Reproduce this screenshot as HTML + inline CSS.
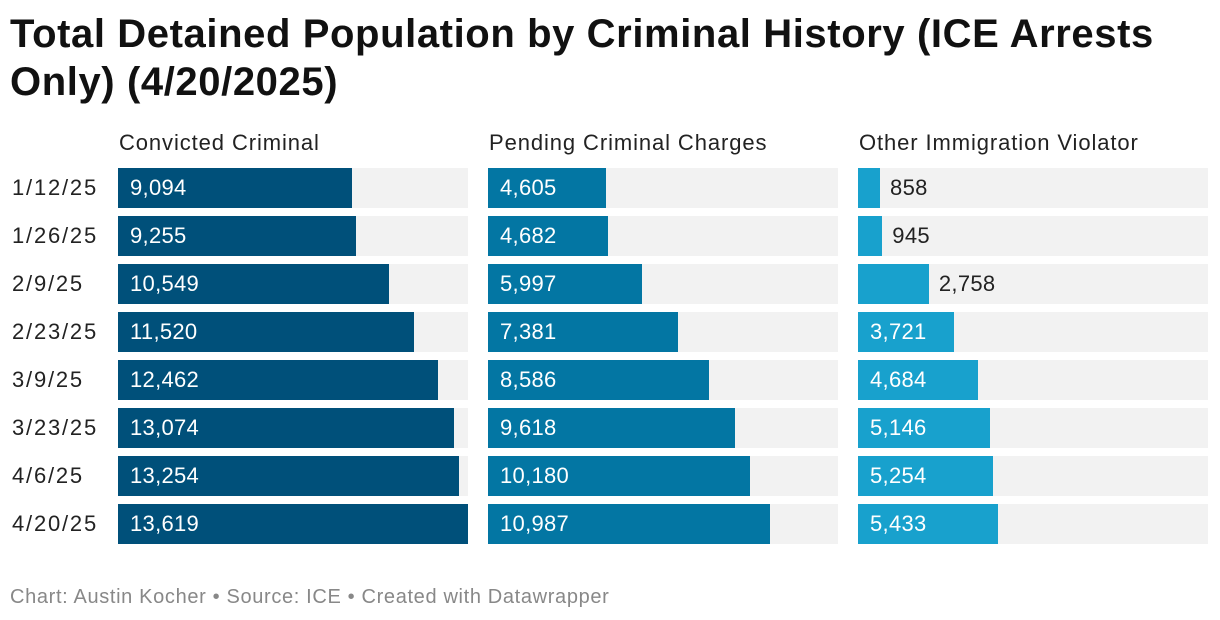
<!DOCTYPE html>
<html><head><meta charset="utf-8">
<style>
body{margin:0;background:#fff;font-family:"Liberation Sans",Roboto,sans-serif;}
#wrap{position:relative;width:1220px;height:620px;overflow:hidden;}
h1{position:absolute;left:10px;top:10px;margin:0;font-size:40px;line-height:48px;font-weight:bold;color:#111;width:1210px;letter-spacing:0.6px}
.hdr{position:absolute;top:130px;font-size:22px;color:#222;letter-spacing:0.9px;}
.lbl{position:absolute;left:12px;font-size:22px;color:#222;line-height:40px;letter-spacing:1.8px;}
.bg{position:absolute;height:40px;background:#f2f2f2;}
.bar{position:absolute;height:40px;}
.val{position:absolute;font-size:22px;line-height:40px;letter-spacing:0.3px;}
#foot{position:absolute;left:10px;top:586px;font-size:20px;color:#888;letter-spacing:0.65px;}
</style></head><body>
<div id="wrap">
<h1>Total Detained Population by Criminal History (ICE Arrests Only) (4/20/2025)</h1>
<div id="foot">Chart: Austin Kocher • Source: ICE • Created with Datawrapper</div>
</div>
<script>
const dates=["1/12/25","1/26/25","2/9/25","2/23/25","3/9/25","3/23/25","4/6/25","4/20/25"];
const seriesNames=["Convicted Criminal","Pending Criminal Charges","Other Immigration Violator"];
const convicted=[9094,9255,10549,11520,12462,13074,13254,13619];
const pending=[4605,4682,5997,7381,8586,9618,10180,10987];
const other=[858,945,2758,3721,4684,5146,5254,5433];
const series=[convicted,pending,other];
const colors=["#00507a","#0376a3","#18a1cd"];
const wrap=document.getElementById('wrap');
const panelX=[118,488,858],panelW=350,top0=168,pitch=48,maxV=13619;
const xs=v=>v/maxV*panelW;
function mk(cls,name){const d=document.createElement('div');d.className=cls;


wrap.appendChild(d);return d;}
seriesNames.forEach((n,i)=>{const h=mk('hdr','panel-header');h.style.left=(panelX[i]+1)+'px';h.textContent=n;});
dates.forEach((d,r)=>{const l=mk('lbl','row-label');l.style.top=(top0+r*pitch)+'px';l.textContent=d;});
series.forEach((vals,i)=>{vals.forEach((v,r)=>{
 const y=top0+r*pitch;
 const bg=mk('bg','bar-background');bg.style.left=panelX[i]+'px';bg.style.top=y+'px';bg.style.width=panelW+'px';
 const w=xs(v);
 const b=mk('bar','bar');b.style.left=panelX[i]+'px';b.style.top=y+'px';b.style.width=w+'px';b.style.background=colors[i];
 const t=mk('val','value-label');t.style.top=y+'px';t.textContent=v.toLocaleString('en-US');
 if(w>85){t.style.left=(panelX[i]+12)+'px';t.style.color='#fff';}
 else{t.style.left=(panelX[i]+w+10)+'px';t.style.color='#222';}
});});
</script>
</body></html>
